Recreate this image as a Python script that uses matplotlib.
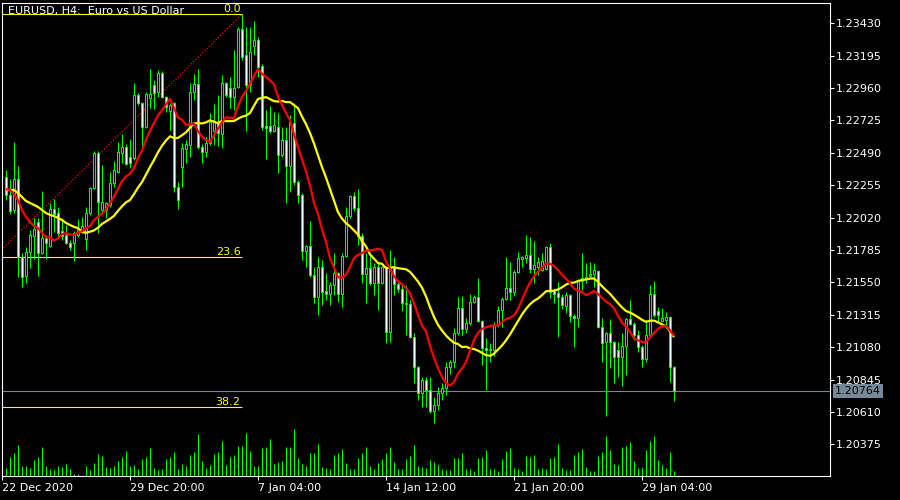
import matplotlib
matplotlib.use("Agg")
import matplotlib.pyplot as plt
from matplotlib.patches import Rectangle
import matplotlib.transforms as mtransforms
import pandas as pd

opens = [1.22315,1.22185,1.22076,1.22301,1.21735,1.21597,1.21771,1.21887,1.21989,1.21764,
 1.21873,1.21815,1.22083,1.22054,1.21924,1.21895,1.21837,1.21837,1.21895,1.21916,
 1.21866,1.22054,1.22235,1.22489,1.22076,1.22076,1.22112,1.22272,1.22352,1.22489,
 1.22533,1.22460,1.22453,1.22910,1.22852,1.22678,1.22888,1.22982,1.22932,1.23070,
 1.22895,1.22794,1.22852,1.22243,1.22388,1.22518,1.22547,1.22932,1.22990,1.22533,
 1.22497,1.22562,1.22649,1.22714,1.22627,1.22997,1.22961,1.22895,1.22968,1.23389,
 1.23200,1.22982,1.23265,1.23309,1.23120,1.22685,1.22685,1.22649,1.22678,1.22475,
 1.22584,1.22395,1.22707,1.22279,1.22185,1.21779,1.21815,1.21604,1.21445,1.21662,
 1.21485,1.21470,1.21532,1.21619,1.21467,1.21742,1.22032,1.22177,1.22090,1.21887,
 1.21612,1.21655,1.21546,1.21662,1.21546,1.21662,1.21191,1.21662,1.21539,1.21503,
 1.21401,1.21394,1.21155,1.20937,1.20749,1.20843,1.20770,1.20618,1.20662,1.20749,
 1.20785,1.20937,1.20973,1.21184,1.21365,1.21213,1.21256,1.21409,1.21445,1.21271,
 1.21075,1.21060,1.21060,1.21242,1.21351,1.21430,1.21510,1.21481,1.21626,1.21720,
 1.21730,1.21750,1.21648,1.21660,1.21640,1.21650,1.21808,1.21488,1.21474,1.21445,
 1.21380,1.21459,1.21307,1.21293,1.21561,1.21575,1.21597,1.21612,1.21634,1.21227,
 1.21118,1.21184,1.21118,1.21060,1.21010,1.21089,1.21285,1.21249,1.21169,1.21082,
 1.20995,1.21169,1.21467,1.21343,1.21271,1.21278,1.21300,1.20937]

highs = [1.22366,1.22301,1.22569,1.22395,1.21764,1.21808,1.21931,1.22018,1.22018,1.22214,
 1.21895,1.22127,1.22156,1.22098,1.22018,1.21967,1.21858,1.21924,1.22011,1.22025,
 1.22098,1.22243,1.22504,1.22504,1.22402,1.22134,1.22352,1.22431,1.22569,1.22627,
 1.22555,1.22591,1.22997,1.22925,1.22859,1.22932,1.23098,1.23019,1.23091,1.23084,
 1.22903,1.22852,1.22859,1.22279,1.22562,1.22584,1.22997,1.23062,1.23098,1.22555,
 1.22605,1.22779,1.22845,1.22910,1.23055,1.23004,1.23041,1.23236,1.23403,1.23495,
 1.23403,1.23403,1.23447,1.23331,1.23135,1.22801,1.22830,1.22787,1.22779,1.22678,
 1.22678,1.22765,1.22852,1.22293,1.22199,1.21822,1.21996,1.21662,1.21735,1.21713,
 1.21619,1.21554,1.21764,1.21626,1.21764,1.22098,1.22185,1.22206,1.22228,1.21909,
 1.21764,1.21750,1.21692,1.21692,1.21670,1.21670,1.21786,1.21735,1.21568,1.21546,
 1.21532,1.21423,1.21184,1.20944,1.20865,1.20865,1.20865,1.20720,1.20792,1.20821,
 1.20973,1.20988,1.21220,1.21445,1.21452,1.21293,1.21467,1.21459,1.21583,1.21278,
 1.21148,1.21111,1.21264,1.21380,1.21445,1.21735,1.21699,1.21641,1.21771,1.21742,
 1.21895,1.21880,1.21851,1.21735,1.21764,1.21815,1.21837,1.21510,1.21554,1.21467,
 1.21481,1.21467,1.21322,1.21575,1.21764,1.21692,1.21699,1.21692,1.21641,1.21293,
 1.21191,1.21285,1.21125,1.21118,1.21184,1.21293,1.21423,1.21264,1.21206,1.21096,
 1.21278,1.21532,1.21561,1.21372,1.21365,1.21336,1.21307,1.20944]

lows = [1.22148,1.22047,1.22054,1.21590,1.21517,1.21546,1.21655,1.21720,1.21597,1.21757,
 1.21720,1.21808,1.21916,1.21873,1.21858,1.21829,1.21786,1.21706,1.21880,1.21909,
 1.21786,1.22040,1.22228,1.21909,1.22054,1.22018,1.22098,1.22243,1.22344,1.22417,
 1.22402,1.22381,1.22439,1.22837,1.22533,1.22671,1.22816,1.22808,1.22895,1.22888,
 1.22787,1.22656,1.22206,1.22083,1.22243,1.22417,1.22460,1.22874,1.22518,1.22417,
 1.22460,1.22547,1.22547,1.22540,1.22526,1.22895,1.22816,1.22801,1.22961,1.23164,
 1.22649,1.22932,1.23200,1.23041,1.22656,1.22446,1.22634,1.22640,1.22344,1.22460,
 1.22127,1.22206,1.22257,1.22127,1.21713,1.21662,1.21590,1.21401,1.21314,1.21387,
 1.21423,1.21387,1.21459,1.21409,1.21372,1.21735,1.22018,1.22069,1.21822,1.21546,
 1.21401,1.21532,1.21459,1.21351,1.21540,1.21111,1.21118,1.21459,1.21481,1.21343,
 1.21169,1.21148,1.20821,1.20698,1.20647,1.20647,1.20603,1.20531,1.20625,1.20698,
 1.20734,1.20886,1.20930,1.21169,1.21169,1.21184,1.21242,1.21401,1.21264,1.20952,
 1.20770,1.20973,1.21017,1.21227,1.21227,1.21423,1.21423,1.21452,1.21619,1.21662,
 1.21692,1.21619,1.21546,1.21604,1.21633,1.21641,1.21437,1.21401,1.21155,1.21358,
 1.21329,1.21264,1.21082,1.21227,1.21496,1.21546,1.21590,1.21517,1.21220,1.20973,
 1.20582,1.20930,1.20821,1.20865,1.20800,1.20879,1.21242,1.21133,1.21046,1.20937,
 1.20973,1.21155,1.21300,1.21256,1.21264,1.21235,1.20829,1.20691]

closes = [1.22185,1.22069,1.22301,1.21735,1.21590,1.21771,1.21895,1.21938,1.21764,1.21873,
 1.21837,1.22083,1.22047,1.21909,1.21887,1.21837,1.21808,1.21909,1.21938,1.21960,
 1.22054,1.22235,1.22489,1.22134,1.22134,1.22127,1.22272,1.22366,1.22497,1.22533,
 1.22410,1.22417,1.22910,1.22852,1.22678,1.22917,1.22917,1.22925,1.23070,1.22895,
 1.22823,1.22837,1.22243,1.22148,1.22526,1.22555,1.22932,1.22990,1.22533,1.22497,
 1.22562,1.22714,1.22714,1.22634,1.22997,1.22910,1.22895,1.22961,1.23389,1.23186,
 1.22982,1.23222,1.23309,1.23113,1.22678,1.22671,1.22649,1.22692,1.22475,1.22584,
 1.22395,1.22714,1.22279,1.22185,1.21779,1.21815,1.21604,1.21445,1.21662,1.21481,
 1.21470,1.21532,1.21619,1.21467,1.21742,1.22032,1.22177,1.22090,1.21887,1.21612,
 1.21655,1.21546,1.21662,1.21546,1.21662,1.21191,1.21662,1.21539,1.21503,1.21401,
 1.21394,1.21155,1.20937,1.20749,1.20843,1.20770,1.20618,1.20662,1.20749,1.20785,
 1.20937,1.20973,1.21184,1.21365,1.21213,1.21256,1.21409,1.21445,1.21271,1.21075,
 1.21060,1.21068,1.21242,1.21351,1.21430,1.21510,1.21481,1.21626,1.21728,1.21735,
 1.21750,1.21648,1.21677,1.21700,1.21706,1.21808,1.21481,1.21467,1.21445,1.21387,
 1.21459,1.21307,1.21293,1.21568,1.21583,1.21590,1.21612,1.21641,1.21227,1.21111,
 1.21184,1.21118,1.21010,1.21010,1.21089,1.21285,1.21249,1.21169,1.21082,1.20995,
 1.21169,1.21467,1.21314,1.21314,1.21293,1.21300,1.20937,1.20764]

tick_volume = [800,1900,2300,3100,1000,1000,800,1600,1900,2900,
 1000,700,600,1000,900,1200,700,200,200,0,
 1000,600,1300,2200,2000,900,800,1000,1500,1900,
 2500,1000,1100,700,1700,1900,2800,800,600,700,
 1700,1900,2400,700,1200,1000,2100,2400,4200,1500,
 800,1100,2200,2400,3500,1100,1900,2100,3000,3000,
 4300,2500,1000,1000,2800,2900,3700,1200,1400,1500,
 2900,2900,4700,1800,1200,1000,2300,2300,3200,900,
 800,700,2100,2300,2700,1300,700,700,1800,2300,
 2900,1000,700,1300,1700,2300,2900,1400,700,700,
 1700,2000,3100,1000,900,800,1600,1400,1100,700,
 600,600,1800,1800,2300,700,700,500,1800,1900,
 2600,700,700,500,1700,2500,2800,800,700,500,
 2000,1900,2100,700,800,700,1800,1900,3200,800,
 600,600,2100,2400,2700,900,500,500,2000,2400,
 4000,2600,1200,1100,2900,3000,3400,1500,800,900,
 2600,3500,4000,1600,1100,800,2400,500]

# moving-average values at the left edge (before the windows fill)
red_ma_start = [1.22228,1.22221,1.22192,1.22148,1.22076,1.22025,1.21989,1.21960,1.21945]
yellow_ma_start = [1.22221,1.22221,1.22221,1.22199,1.22170,1.22141,1.22127,1.22112,1.22098,
 1.22076,1.22054,1.22040,1.22032,1.22018,1.22003,1.21982,1.21967,1.21953,1.21945]
red_ma_period = 10
yellow_ma_period = 20

price_ticks = [1.20375,1.20610,1.20845,1.21080,1.21315,1.21550,1.21785,
               1.22020,1.22255,1.22490,1.22725,1.22960,1.23195,1.23430]
x_tick_bars = [-1, 31, 63, 95, 127, 159]
x_tick_labels = ["22 Dec 2020", "29 Dec 20:00", "7 Jan 04:00",
                 "14 Jan 12:00", "21 Jan 20:00", "29 Jan 04:00"]

fib_high, fib_high_bar = 1.23495, 59
fib_low, fib_low_bar = 1.16030, -204
fib_levels = [0.0, 23.6, 38.2]
current_price = 1.20764
title = "EURUSD, H4:  Euro vs US Dollar"

GREEN = "#00ff00"
RED = "#ff0000"
YELLOW = "#ffff00"
SLATE = "#778899"
W, H = 900, 500

fig = plt.figure(figsize=(9, 5), dpi=100, facecolor="black")
ax = fig.add_axes([2 / W, 24 / H, 828 / W, 473.3 / H])
ax.set_facecolor("black")
ax.set_xlim(-1, 206)
ax.set_ylim(1.201465, 1.235794)

n = len(closes)
xs = list(range(n))

# volumes along the bottom
vol_axis_top = 47330
ax.vlines(xs, 0, [v / vol_axis_top for v in tick_volume],
          transform=ax.get_xaxis_transform(), color=GREEN, lw=0.8, zorder=1)

# current price line
ax.axhline(current_price, color=SLATE, lw=0.8, zorder=1.5)

# fibonacci retracement
rng = fib_high - fib_low
for lv in fib_levels:
    p = fib_high - rng * lv / 100.0
    ax.hlines(p, fib_low_bar, fib_high_bar, color=YELLOW, lw=0.8, zorder=2)
    ax.text(fib_high_bar - 0.4, p, f"{lv:.1f}", color=YELLOW, fontsize=8,
            ha="right", va="bottom", zorder=6)
ax.plot([fib_low_bar, fib_high_bar], [fib_low, fib_high], color=RED,
        lw=0.9, ls=(0, (1, 1.5)), zorder=2)

# candles
ax.vlines(xs, lows, highs, color=GREEN, lw=0.8, zorder=3)
for i in xs:
    o, c = opens[i], closes[i]
    bottom = min(o, c)
    height = abs(c - o)
    face = "black" if c >= o else "white"
    ax.add_patch(Rectangle((i - 0.25, bottom), 0.5, height, facecolor=face,
                           edgecolor=GREEN, lw=0.75, zorder=4))

# moving averages
cs = pd.Series(closes)
red_ma = cs.rolling(red_ma_period).mean().tolist()
yel_ma = cs.rolling(yellow_ma_period).mean().tolist()
red_ma[:len(red_ma_start)] = red_ma_start
yel_ma[:len(yellow_ma_start)] = yellow_ma_start
ax.plot(xs, yel_ma, color=YELLOW, lw=1.6, zorder=5, solid_capstyle="butt")
ax.plot(xs, red_ma, color=RED, lw=1.6, zorder=5, solid_capstyle="butt")

# axes styling
for s in ax.spines.values():
    s.set_color("white")
    s.set_linewidth(0.8)
ax.yaxis.tick_right()
ax.set_yticks(price_ticks)
ax.set_yticklabels([f"{p:.5f}" for p in price_ticks])
ax.tick_params(axis="y", colors="white", labelsize=8, length=3, width=0.8,
               direction="out", pad=1.5)
ax.set_xticks(x_tick_bars)
ax.set_xticklabels(x_tick_labels)
ax.tick_params(axis="x", colors="white", labelsize=8, length=3, width=0.8,
               direction="out", pad=2)
for lbl in ax.get_xticklabels():
    lbl.set_ha("left")

# current price box on the price scale
trans = mtransforms.blended_transform_factory(ax.transAxes, ax.transData)
ax.text(1.0 + 5 / 828, current_price, f"{current_price:.5f}", transform=trans,
        color="black", fontsize=8, ha="left", va="center", zorder=10, clip_on=False,
        bbox=dict(boxstyle="square,pad=0.2", facecolor=SLATE, edgecolor="none"))

fig.text(8 / W, 1 - 6 / H, title, color="white", fontsize=8, ha="left", va="top",
         zorder=10)

fig.savefig("out.png", dpi=100, facecolor="black")
